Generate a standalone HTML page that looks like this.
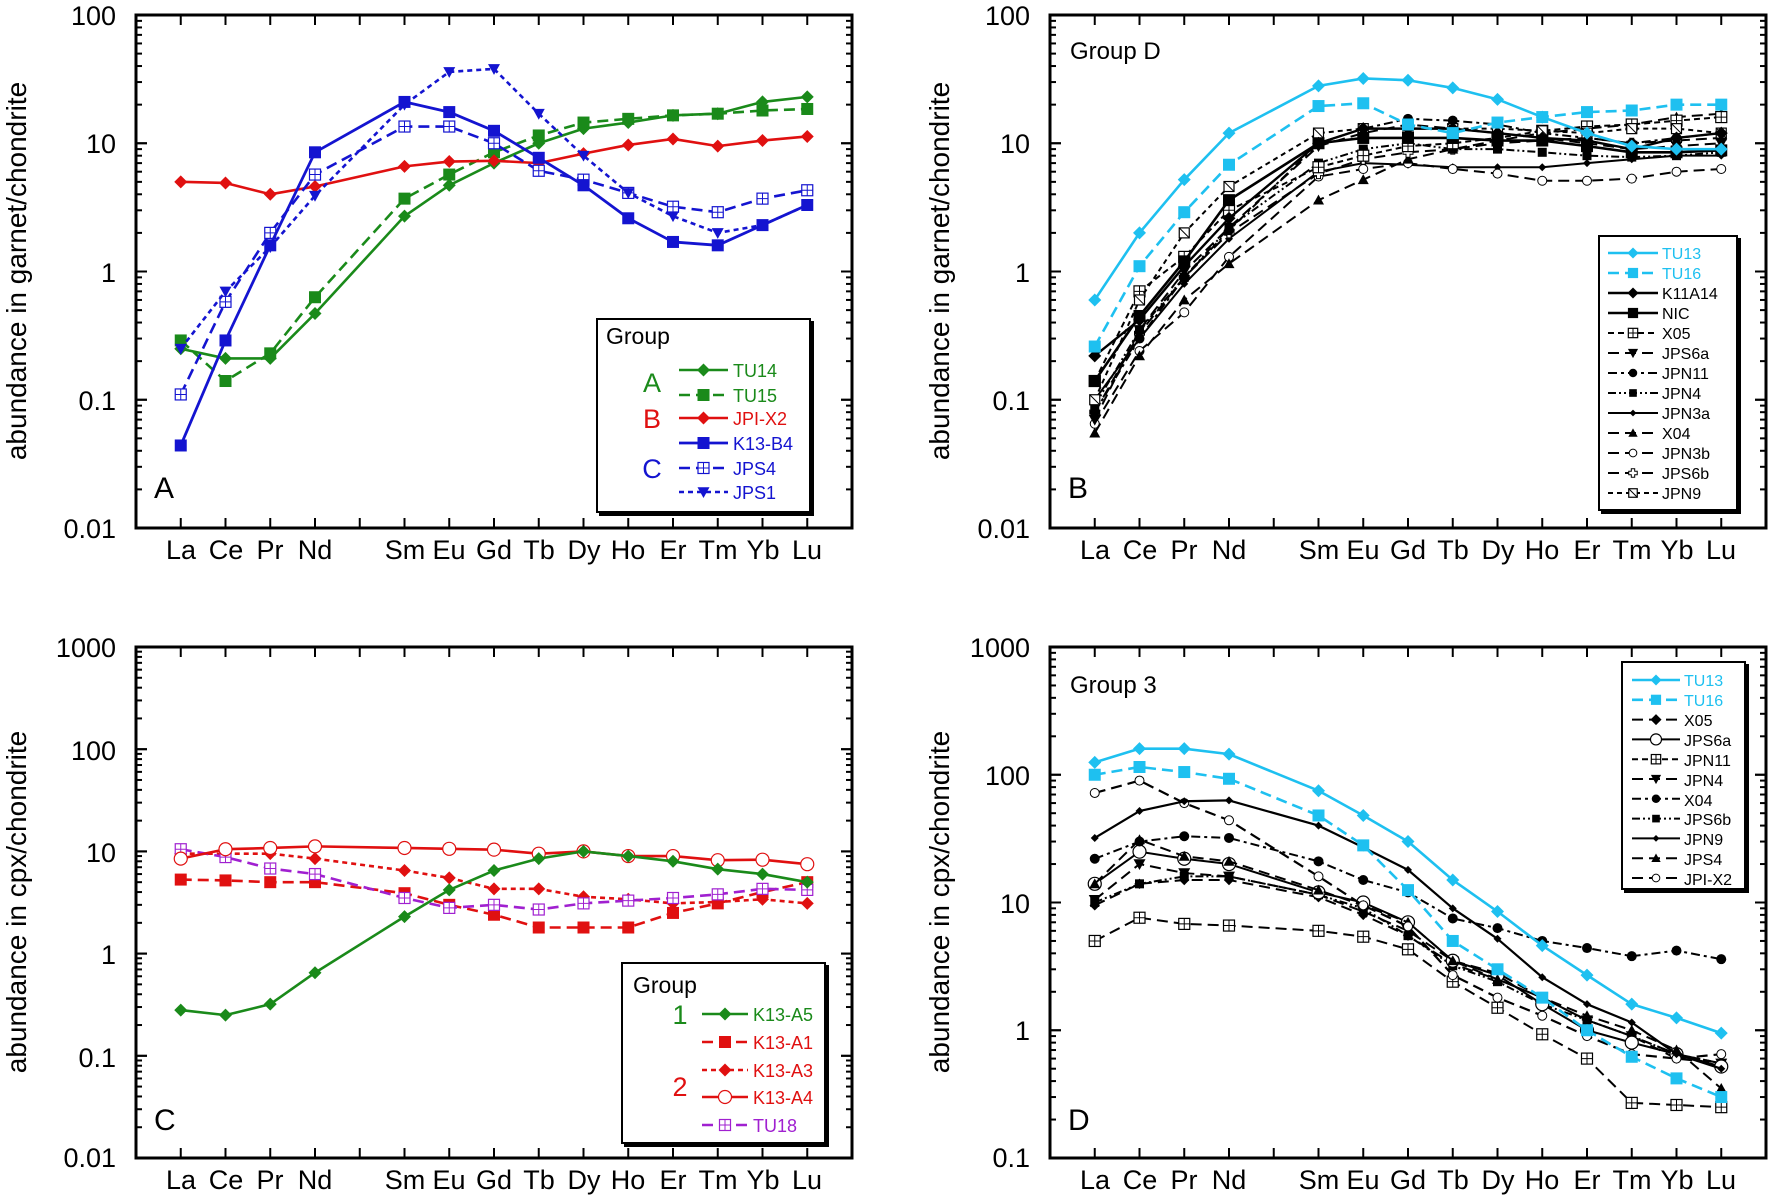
<!DOCTYPE html>
<html><head><meta charset="utf-8"><style>
html,body{margin:0;padding:0;background:#fff;}
svg{display:block;font-family:"Liberation Sans",sans-serif;}
.tl{font-size:27px;fill:#000;}
.ax{font-size:28px;fill:#000;}
.lg{font-size:18px;}
</style></head><body>
<svg id="s" width="1770" height="1198" viewBox="0 0 1770 1198" xmlns="http://www.w3.org/2000/svg">
<g id="frame"></g>
<g id="data"></g>
<!-- y tick labels -->
<g class="tl" text-anchor="end">
<text x="116" y="25">100</text><text x="116" y="153">10</text><text x="116" y="282">1</text><text x="116" y="410">0.1</text><text x="116" y="538">0.01</text>
<text x="1030" y="25">100</text><text x="1030" y="153">10</text><text x="1030" y="282">1</text><text x="1030" y="410">0.1</text><text x="1030" y="538">0.01</text>
<text x="116" y="657">1000</text><text x="116" y="760">100</text><text x="116" y="862">10</text><text x="116" y="964">1</text><text x="116" y="1067">0.1</text><text x="116" y="1167">0.01</text>
<text x="1030" y="657">1000</text><text x="1030" y="785">100</text><text x="1030" y="913">10</text><text x="1030" y="1040">1</text><text x="1030" y="1167">0.1</text>
</g>
<!-- x labels -->
<g class="tl" text-anchor="middle">
<g id="xl1"><text x="181" y="559">La</text><text x="226" y="559">Ce</text><text x="270" y="559">Pr</text><text x="315" y="559">Nd</text><text x="405" y="559">Sm</text><text x="449" y="559">Eu</text><text x="494" y="559">Gd</text><text x="539" y="559">Tb</text><text x="584" y="559">Dy</text><text x="628" y="559">Ho</text><text x="673" y="559">Er</text><text x="718" y="559">Tm</text><text x="763" y="559">Yb</text><text x="807" y="559">Lu</text></g>
<g transform="translate(914,0)"><text x="181" y="559">La</text><text x="226" y="559">Ce</text><text x="270" y="559">Pr</text><text x="315" y="559">Nd</text><text x="405" y="559">Sm</text><text x="449" y="559">Eu</text><text x="494" y="559">Gd</text><text x="539" y="559">Tb</text><text x="584" y="559">Dy</text><text x="628" y="559">Ho</text><text x="673" y="559">Er</text><text x="718" y="559">Tm</text><text x="763" y="559">Yb</text><text x="807" y="559">Lu</text></g>
<g transform="translate(0,630)"><text x="181" y="559">La</text><text x="226" y="559">Ce</text><text x="270" y="559">Pr</text><text x="315" y="559">Nd</text><text x="405" y="559">Sm</text><text x="449" y="559">Eu</text><text x="494" y="559">Gd</text><text x="539" y="559">Tb</text><text x="584" y="559">Dy</text><text x="628" y="559">Ho</text><text x="673" y="559">Er</text><text x="718" y="559">Tm</text><text x="763" y="559">Yb</text><text x="807" y="559">Lu</text></g>
<g transform="translate(914,630)"><text x="181" y="559">La</text><text x="226" y="559">Ce</text><text x="270" y="559">Pr</text><text x="315" y="559">Nd</text><text x="405" y="559">Sm</text><text x="449" y="559">Eu</text><text x="494" y="559">Gd</text><text x="539" y="559">Tb</text><text x="584" y="559">Dy</text><text x="628" y="559">Ho</text><text x="673" y="559">Er</text><text x="718" y="559">Tm</text><text x="763" y="559">Yb</text><text x="807" y="559">Lu</text></g>
</g>
<!-- axis titles -->
<g class="ax" text-anchor="middle">
<text transform="translate(26,271) rotate(-90)">abundance in garnet/chondrite</text>
<text transform="translate(949,271) rotate(-90)">abundance in garnet/chondrite</text>
<text transform="translate(26,902) rotate(-90)">abundance in cpx/chondrite</text>
<text transform="translate(949,902) rotate(-90)">abundance in cpx/chondrite</text>
</g>
<g style="font-size:30px">
<text x="154" y="498">A</text><text x="1068" y="498">B</text>
<text x="154" y="1130">C</text><text x="1068" y="1130">D</text>
</g>
<g style="font-size:24px">
<text x="1070" y="59">Group D</text><text x="1070" y="693">Group 3</text>
</g>
<!-- legend boxes -->
<g stroke="#000" stroke-width="2">
<rect x="600" y="322" width="213" height="193" fill="#000"/><rect x="597" y="319" width="213" height="193" fill="#fff"/>
<rect x="1602" y="239" width="138" height="274" fill="#000"/><rect x="1599" y="236" width="138" height="274" fill="#fff"/>
<rect x="625" y="966" width="203" height="180" fill="#000"/><rect x="622" y="963" width="203" height="180" fill="#fff"/>
<rect x="1625" y="665" width="123" height="227" fill="#000"/><rect x="1622" y="662" width="123" height="227" fill="#fff"/>
</g>
<g id="leg"></g>
<!-- legend text A -->
<text x="606" y="344" style="font-size:23px">Group</text>
<g style="font-size:27px" text-anchor="middle"><text x="652" y="392" fill="#1a8a1a">A</text><text x="652" y="428" fill="#e01010">B</text><text x="652" y="478" fill="#1414d0">C</text></g>
<g class="lg"><text x="733" y="377" fill="#1a8a1a">TU14</text><text x="733" y="402" fill="#1a8a1a">TU15</text><text x="733" y="425" fill="#e01010">JPI-X2</text><text x="733" y="450" fill="#1414d0">K13-B4</text><text x="733" y="475" fill="#1414d0">JPS4</text><text x="733" y="499" fill="#1414d0">JPS1</text></g>
<!-- legend text B -->
<g class="lg" style="font-size:16px"><text x="1662" y="259" fill="#1ec0f0">TU13</text><text x="1662" y="279" fill="#1ec0f0">TU16</text><text x="1662" y="299">K11A14</text><text x="1662" y="319">NIC</text><text x="1662" y="339">X05</text><text x="1662" y="359">JPS6a</text><text x="1662" y="379">JPN11</text><text x="1662" y="399">JPN4</text><text x="1662" y="419">JPN3a</text><text x="1662" y="439">X04</text><text x="1662" y="459">JPN3b</text><text x="1662" y="479">JPS6b</text><text x="1662" y="499">JPN9</text></g>
<!-- legend text C -->
<text x="633" y="993" style="font-size:23px">Group</text>
<g style="font-size:27px" text-anchor="middle"><text x="680" y="1024" fill="#1a8a1a">1</text><text x="680" y="1096" fill="#e01010">2</text></g>
<g class="lg"><text x="753" y="1021" fill="#1a8a1a">K13-A5</text><text x="753" y="1049" fill="#e01010">K13-A1</text><text x="753" y="1077" fill="#e01010">K13-A3</text><text x="753" y="1104" fill="#e01010">K13-A4</text><text x="753" y="1132" fill="#a020d0">TU18</text></g>
<!-- legend text D -->
<g class="lg" style="font-size:16px"><text x="1684" y="686" fill="#1ec0f0">TU13</text><text x="1684" y="706" fill="#1ec0f0">TU16</text><text x="1684" y="726">X05</text><text x="1684" y="746">JPS6a</text><text x="1684" y="766">JPN11</text><text x="1684" y="786">JPN4</text><text x="1684" y="806">X04</text><text x="1684" y="825">JPS6b</text><text x="1684" y="845">JPN9</text><text x="1684" y="865">JPS4</text><text x="1684" y="885">JPI-X2</text></g>
</svg>
<script>
var NS="http://www.w3.org/2000/svg";
var P={A:{x0:136,top:15,tv:2,dec:128.25,bot:528},B:{x0:1050,top:15,tv:2,dec:128.25,bot:528},
C:{x0:136,top:647,tv:3,dec:102.2,bot:1158},D:{x0:1050,top:647,tv:3,dec:127.75,bot:1158}};
var IDX=[0,1,2,3,5,6,7,8,9,10,11,12,13,14];
var SP=44.75;
function X(p,i){return P[p].x0+SP*(i+1);}
function Y(p,v){return P[p].top+(P[p].tv-Math.log10(v))*P[p].dec;}
var fr="",da="",lg="";
for(var k in P){var p=P[k],x1=p.x0+716;
 fr+='<rect x="'+p.x0+'" y="'+p.top+'" width="716" height="'+(p.bot-p.top)+'" fill="none" stroke="#000" stroke-width="3"/>';
 for(var i=0;i<15;i++){var x=X(k,i);fr+='<line x1="'+x+'" x2="'+x+'" y1="'+p.top+'" y2="'+(p.top+10)+'" stroke="#000" stroke-width="2"/><line x1="'+x+'" x2="'+x+'" y1="'+p.bot+'" y2="'+(p.bot-10)+'" stroke="#000" stroke-width="2"/>';}
 var nd=Math.round((p.bot-p.top)/p.dec);
 for(var d=0;d<nd;d++){for(var m=1;m<=10;m++){var y=p.top+(d+1)*p.dec-Math.log10(m)*p.dec;var L=(m==1||m==10)?11:6;
  fr+='<line x1="'+p.x0+'" x2="'+(p.x0+L)+'" y1="'+y+'" y2="'+y+'" stroke="#000" stroke-width="2"/><line x1="'+x1+'" x2="'+(x1-L)+'" y1="'+y+'" y2="'+y+'" stroke="#000" stroke-width="2"/>';}}
}
function mk(t,x,y,c,s){s=s||1;var r;
 switch(t){
 case "D":r=6.5*s;return '<path d="M'+x+','+(y-r)+'L'+(x+r)+','+y+'L'+x+','+(y+r)+'L'+(x-r)+','+y+'Z" fill="'+c+'"/>';
 case "d":r=4*s;return '<path d="M'+x+','+(y-r)+'L'+(x+r)+','+y+'L'+x+','+(y+r)+'L'+(x-r)+','+y+'Z" fill="'+c+'"/>';
 case "S":r=6*s;return '<rect x="'+(x-r)+'" y="'+(y-r)+'" width="'+2*r+'" height="'+2*r+'" fill="'+c+'"/>';
 case "s":r=4.5*s;return '<rect x="'+(x-r)+'" y="'+(y-r)+'" width="'+2*r+'" height="'+2*r+'" fill="'+c+'"/>';
 case "H":r=5.5*s;return '<rect x="'+(x-r)+'" y="'+(y-r)+'" width="'+2*r+'" height="'+2*r+'" fill="#fff" stroke="'+c+'" stroke-width="1.2"/><path d="M'+x+','+(y-r)+'V'+(y+r)+'M'+(x-r)+','+y+'H'+(x+r)+'" stroke="'+c+'" stroke-width="1"/>';
 case "N":r=5*s;return '<rect x="'+(x-r)+'" y="'+(y-r)+'" width="'+2*r+'" height="'+2*r+'" fill="#fff" stroke="'+c+'" stroke-width="1.2"/><path d="M'+(x-r)+','+(y-r)+'L'+(x+r)+','+(y+r)+'" stroke="'+c+'" stroke-width="1"/>';
 case "V":r=6*s;return '<path d="M'+(x-r)+','+(y-r*0.8)+'L'+(x+r)+','+(y-r*0.8)+'L'+x+','+(y+r)+'Z" fill="'+c+'"/>';
 case "T":r=5.5*s;return '<path d="M'+(x-r)+','+(y+r*0.8)+'L'+(x+r)+','+(y+r*0.8)+'L'+x+','+(y-r)+'Z" fill="'+c+'"/>';
 case "C":r=5*s;return '<circle cx="'+x+'" cy="'+y+'" r="'+r+'" fill="'+c+'"/>';
 case "O":r=6.5*s;return '<circle cx="'+x+'" cy="'+y+'" r="'+r+'" fill="#fff" stroke="'+c+'" stroke-width="1.2"/>';
 case "o":r=4.5*s;return '<circle cx="'+x+'" cy="'+y+'" r="'+r+'" fill="#fff" stroke="'+c+'" stroke-width="1"/>';
 case "X":r=5*s;var q=r/2.5;return '<path d="M'+(x-q)+','+(y-r)+'h'+2*q+'v'+(r-q)+'h'+(r-q)+'v'+2*q+'h'+(q-r)+'v'+(r-q)+'h'+(-2*q)+'v'+(q-r)+'h'+(q-r)+'v'+(-2*q)+'h'+(r-q)+'Z" fill="#fff" stroke="'+c+'" stroke-width="1"/>';
 }return "";}
var DS={sol:"",das:"11,6",dot:"5,4",dd:"9,4,3,4",ddd:"8,3,2,3,2,3",sd:"6,4"};
function S(p,c,w,ds,m,vals,ms){
 var pts=vals.map(function(v,j){return [X(p,IDX[j]),Y(p,v)];});
 da+='<polyline points="'+pts.map(function(a){return a.join(",");}).join(" ")+'" fill="none" stroke="'+c+'" stroke-width="'+w+'"'+(DS[ds]?' stroke-dasharray="'+DS[ds]+'"':'')+' stroke-linejoin="round"/>';
 pts.forEach(function(a){da+=mk(m,a[0],a[1],c,ms);});
}
function LG(x1,x2,y,c,w,ds,m,ms){lg+='<line x1="'+x1+'" x2="'+x2+'" y1="'+y+'" y2="'+y+'" stroke="'+c+'" stroke-width="'+w+'"'+(DS[ds]?' stroke-dasharray="'+DS[ds]+'"':'')+'/>'+mk(m,(x1+x2)/2,y,c,ms);}
var G="#1a8a1a",R="#e01010",B="#1414d0",CY="#1ec0f0",PU="#a020d0",K="#000";
// Panel A
S("A",G,2.6,"sol","D",[0.25,0.21,0.21,0.47,2.7,4.7,7,10,13,14.5,16.5,17,21,23]);
S("A",G,2.6,"das","S",[0.29,0.14,0.23,0.63,3.7,5.7,8.5,11.5,14.5,15.5,16.5,17,18,18.5]);
S("A",R,2.6,"sol","D",[5,4.9,4.0,4.6,6.6,7.2,7.3,7.0,8.3,9.7,10.8,9.5,10.5,11.3]);
S("A",B,2.6,"das","H",[0.11,0.58,2.0,5.7,13.5,13.5,10,6.1,5.2,4.1,3.2,2.9,3.7,4.3]);
S("A",B,2.6,"dot","V",[0.25,0.7,1.55,3.9,20,36,38,17,8,4.1,2.7,2.0,2.3,3.3]);
S("A",B,2.8,"sol","S",[0.044,0.29,1.6,8.5,21,17.5,12.5,7.7,4.7,2.6,1.7,1.6,2.3,3.3]);
LG(679,728,370,G,2.6,"sol","D");LG(679,728,395,G,2.6,"das","S");LG(679,728,418,R,2.6,"sol","D");
LG(679,728,443,B,2.8,"sol","S");LG(679,728,468,B,2.6,"das","H");LG(679,728,492,B,2.6,"dot","V");
// Panel B
S("B",K,2,"sol","d",[0.1,0.3,0.8,1.8,6,7,6.8,6.5,6.5,6.5,7,7.5,8,8]);
S("B",K,2,"das","o",[0.065,0.24,0.48,1.3,5.5,6.3,7,6.3,5.8,5.1,5.1,5.3,6,6.3]);
S("B",K,2,"das","T",[0.055,0.22,0.6,1.15,3.6,5.2,7.5,9,10.5,12,13,14,16,17]);
S("B",K,2,"das","X",[0.08,0.33,0.9,2,5.8,7.5,8.5,9,10,10.5,11,10,10.5,11]);
S("B",K,2,"ddd","s",[0.09,0.35,0.9,2.2,7,9,10,9,9,8.5,8,7.8,8,8.5]);
S("B",K,2,"das","V",[0.07,0.35,1.0,2.2,9.5,12,14,13,12,11,10,9,9.5,10]);
S("B",K,2,"dd","C",[0.08,0.3,0.9,2.1,10,13,15.5,15,14,12,11,10,11,12]);
S("B",K,2,"sd","H",[0.14,0.7,1.3,3,6.5,8,9.5,10,11,12.5,13.5,14,15,16]);
S("B",K,2,"dot","N",[0.1,0.6,2.0,4.6,12,13,13,13,13,12.5,12,13,13,12]);
S("B",K,2.4,"sol","D",[0.22,0.42,1.1,2.6,10,13,13,13,12,11,10.5,9,11,12]);
S("B",K,2.6,"sol","S",[0.14,0.45,1.2,3.6,10,11,11,11,10.5,10.5,9.5,8.5,8.5,8.8]);
S("B",CY,2.6,"das","S",[0.26,1.1,2.9,6.8,19.5,20.5,14,12,14.5,16,17.5,18,20,20]);
S("B",CY,2.6,"sol","D",[0.6,2.0,5.2,12,28,32,31,27,22,16,12,9.5,9,9]);
var lb=[[CY,2.6,"sol","D"],[CY,2.6,"das","S"],[K,2.4,"sol","D"],[K,2.6,"sol","S"],[K,2,"sd","H"],[K,2,"das","V"],[K,2,"dd","C"],[K,2,"ddd","s"],[K,2,"sol","d"],[K,2,"das","T"],[K,2,"das","o"],[K,2,"das","X"],[K,2,"dot","N"]];
lb.forEach(function(a,j){LG(1608,1658,253+20*j,a[0],a[1],a[2],a[3],0.85);});
// Panel C
S("C",R,2.6,"das","S",[5.3,5.2,5.0,5.0,3.9,3.0,2.4,1.8,1.8,1.8,2.5,3.1,4,5]);
S("C",R,2.6,"dot","D",[9.5,9.5,9.5,8.5,6.5,5.5,4.3,4.3,3.6,3.4,3.1,3.2,3.4,3.1]);
S("C",PU,2.6,"das","H",[10.5,8.8,6.8,6,3.5,2.8,3,2.7,3.1,3.3,3.5,3.8,4.3,4.2]);
S("C",R,2.6,"sol","O",[8.5,10.5,10.8,11.2,10.8,10.6,10.4,9.5,10,9,9,8.2,8.3,7.5]);
S("C",G,2.6,"sol","D",[0.28,0.25,0.32,0.65,2.3,4.2,6.5,8.5,10,9,8,6.7,6,5]);
LG(702,748,1014,G,2.6,"sol","D");LG(702,748,1042,R,2.6,"das","S");LG(702,748,1070,R,2.6,"dot","D");
LG(702,748,1097,R,2.6,"sol","O");LG(702,748,1125,PU,2.6,"das","H");
// Panel D
S("D",K,2,"das","H",[5,7.6,6.8,6.6,6,5.4,4.3,2.4,1.5,0.93,0.6,0.27,0.26,0.25]);
S("D",K,2,"das","D",[9.5,14,15,15,11,8,5.5,3.3,2.5,1.8,1.2,0.9,0.6,0.55],0.8);
S("D",K,2,"das","V",[10.5,20,17,16,11.5,8.5,6,3.5,2.8,1.8,1.2,0.9,0.65,0.55]);
S("D",K,2,"ddd","s",[10,14,16,16,11.5,9,5.5,3.2,2.4,1.6,1.2,0.9,0.65,0.55]);
S("D",K,2,"sol","O",[14,25,22,20,12,10,7,3.5,2.7,1.6,1.0,0.8,0.65,0.52]);
S("D",K,2,"das","T",[14,31,23,21,12.5,9.5,7,3.5,2.5,1.8,1.3,1.0,0.7,0.35]);
S("D",K,2,"dd","C",[22,30,33,32,21,15,12,7.5,6.3,5,4.4,3.8,4.2,3.6]);
S("D",K,2.2,"das","o",[72,90,60,44,16,9.5,6.5,2.7,1.8,1.3,0.9,0.65,0.6,0.65]);
S("D",K,2.2,"sol","d",[32,52,62,63,40,27,18,9,5.2,2.6,1.6,1.15,0.65,0.5]);
S("D",CY,2.6,"das","S",[100,115,105,93,48,28,12.5,5,3,1.8,1.0,0.62,0.42,0.3]);
S("D",CY,2.6,"sol","D",[125,160,160,145,75,48,30,15,8.5,4.6,2.7,1.6,1.25,0.95]);
var ld=[[CY,2.6,"sol","D"],[CY,2.6,"das","S"],[K,2,"das","D"],[K,2,"sol","O"],[K,2,"sd","H"],[K,2,"das","V"],[K,2,"dd","C"],[K,2,"ddd","s"],[K,2,"sol","d"],[K,2,"das","T"],[K,2,"das","o"]];
ld.forEach(function(a,j){LG(1632,1680,680+19.8*j,a[0],a[1],a[2],a[3],0.85);});
document.getElementById("frame").innerHTML=fr;
document.getElementById("data").innerHTML=da;
document.getElementById("leg").innerHTML=lg;
</script>
</body></html>
